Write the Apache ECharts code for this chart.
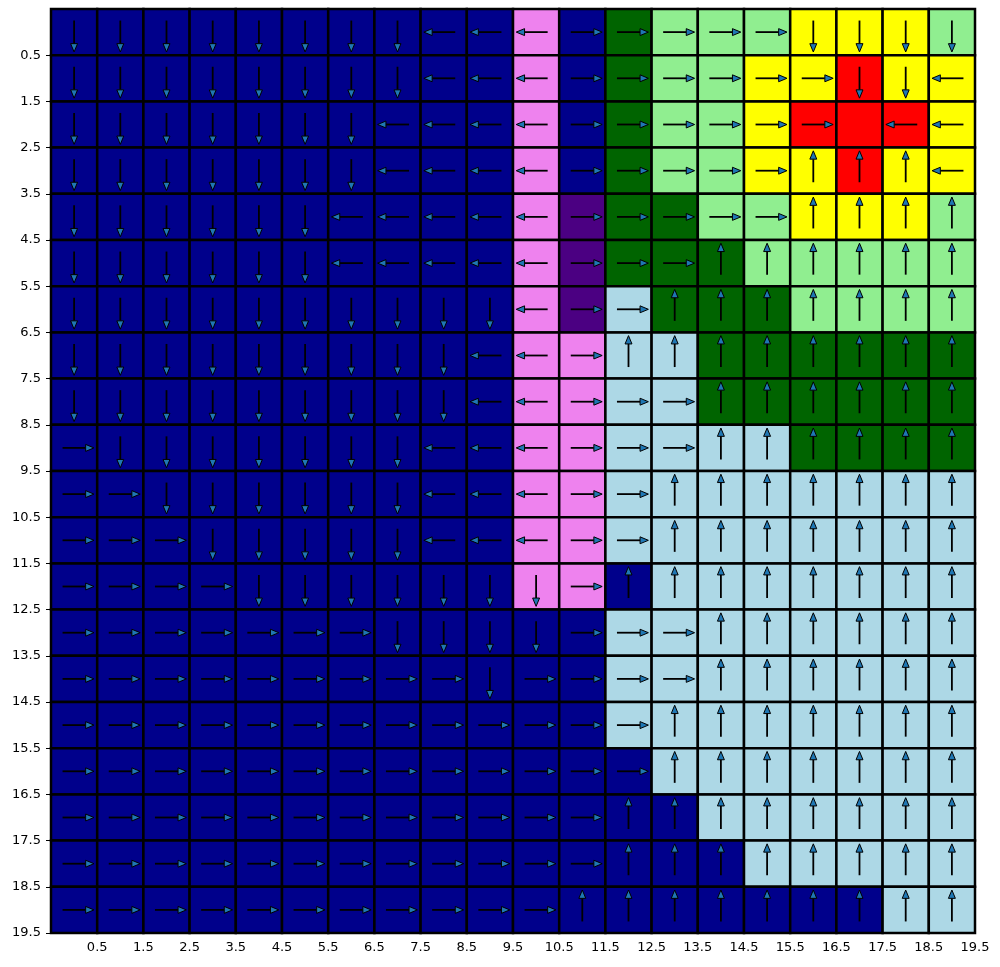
<!DOCTYPE html>
<html><head><meta charset="utf-8">
<script src="https://cdn.jsdelivr.net/npm/echarts@6/dist/echarts.min.js"></script>
<style>html,body{margin:0;padding:0;background:#fff}#c{width:1000px;height:967px}</style>
</head><body><div id="c"></div>
<script>
// Tick labels shown at the cell boundaries
const tickLabels = ['0.5','1.5','2.5','3.5','4.5','5.5','6.5','7.5','8.5','9.5',
  '10.5','11.5','12.5','13.5','14.5','15.5','16.5','17.5','18.5','19.5'];

// Cell colour codes, one string per row (top to bottom), one char per column
const colorRows = [
  'NNNNNNNNNNVNGLLLYYYL',
  'NNNNNNNNNNVNGLLYYRYY',
  'NNNNNNNNNNVNGLLYRRRY',
  'NNNNNNNNNNVNGLLYYRYY',
  'NNNNNNNNNNVPGGLLYYYL',
  'NNNNNNNNNNVPGGGLLLLL',
  'NNNNNNNNNNVPBGGGLLLL',
  'NNNNNNNNNNVVBBGGGGGG',
  'NNNNNNNNNNVVBBGGGGGG',
  'NNNNNNNNNNVVBBBBGGGG',
  'NNNNNNNNNNVVBBBBBBBB',
  'NNNNNNNNNNVVBBBBBBBB',
  'NNNNNNNNNNVVNBBBBBBB',
  'NNNNNNNNNNNNBBBBBBBB',
  'NNNNNNNNNNNNBBBBBBBB',
  'NNNNNNNNNNNNBBBBBBBB',
  'NNNNNNNNNNNNNBBBBBBB',
  'NNNNNNNNNNNNNNBBBBBB',
  'NNNNNNNNNNNNNNNBBBBB',
  'NNNNNNNNNNNNNNNNNNBB'
];

// Action per cell: U up, D down, L left, R right, . none
const actionRows = [
  'DDDDDDDDLLLRRRRRDDDD',
  'DDDDDDDDLLLRRRRRRDDL',
  'DDDDDDDLLLLRRRRRR.LL',
  'DDDDDDDLLLLRRRRRUUUL',
  'DDDDDDLLLLLRRRRRUUUU',
  'DDDDDDLLLLLRRRUUUUUU',
  'DDDDDDDDDDLRRUUUUUUU',
  'DDDDDDDDDLLRUUUUUUUU',
  'DDDDDDDDDLLRRRUUUUUU',
  'RDDDDDDDLLLRRRUUUUUU',
  'RRDDDDDDLLLRRUUUUUUU',
  'RRRDDDDDLLLRRUUUUUUU',
  'RRRRDDDDDDDRUUUUUUUU',
  'RRRRRRRDDDDRRRUUUUUU',
  'RRRRRRRRRDRRRRUUUUUU',
  'RRRRRRRRRRRRRUUUUUUU',
  'RRRRRRRRRRRRRUUUUUUU',
  'RRRRRRRRRRRRUUUUUUUU',
  'RRRRRRRRRRRRUUUUUUUU',
  'RRRRRRRRRRRUUUUUUUUU'
];

const cellColors = {N:'#00008B', V:'#EE82EE', P:'#4B0082', G:'#006400', L:'#90EE90', Y:'#FFFF00', R:'#FF0000', B:'#ADD8E6'};
const actionVectors = {U:[0,-1], D:[0,1], L:[-1,0], R:[1,0]};

const cellData = [];
colorRows.forEach((row, r) => {
  for (let c = 0; c < row.length; c++) {
    cellData.push({value:[c, r], itemStyle:{color: cellColors[row[c]]}});
  }
});
const arrowData = [];
actionRows.forEach((row, r) => {
  for (let c = 0; c < row.length; c++) {
    const v = actionVectors[row[c]];
    if (v) arrowData.push([c, r, v[0], v[1]]);
  }
});

const tickPositions = tickLabels.map((_, i) => i + 1);
const labelFmt = v => {
  const i = Math.round(v);
  return i >= 1 && i <= tickLabels.length ? tickLabels[i - 1] : '';
};

const axisCommon = {
  type:'value', min:0, max:20, interval:1,
  axisLine:{show:true, lineStyle:{color:'#000', width:1}},
  axisTick:{show:true, length:5, lineStyle:{color:'#000'}, customValues:tickPositions},
  splitLine:{show:false}
};

const chart = echarts.init(document.getElementById('c'), null, {renderer:'canvas'});
chart.setOption({
  animation:false,
  backgroundColor:'#fff',
  grid:{left:51, top:9, right:25, bottom:34},
  xAxis:Object.assign({}, axisCommon, {
    axisLabel:{formatter:labelFmt, customValues:tickPositions, color:'#000', fontSize:13, fontFamily:'DejaVu Sans', margin:8}}),
  yAxis:Object.assign({}, axisCommon, {inverse:true,
    axisLabel:{formatter:labelFmt, customValues:tickPositions, color:'#000', fontSize:13, fontFamily:'DejaVu Sans', margin:10}}),
  series:[
    {type:'custom', clip:false, z:2, data:cellData,
      renderItem:(params, api) => {
        const p0 = api.coord([api.value(0), api.value(1)]);
        const p1 = api.coord([api.value(0) + 1, api.value(1) + 1]);
        return {type:'rect',
          shape:{x:Math.min(p0[0],p1[0]), y:Math.min(p0[1],p1[1]), width:Math.abs(p1[0]-p0[0]), height:Math.abs(p1[1]-p0[1])},
          style:{fill:api.visual('color'), stroke:'#000', lineWidth:2.5}};
      }},
    {type:'custom', clip:false, z:3, data:arrowData,
      renderItem:(params, api) => {
        const c = api.value(0), r = api.value(1), dx = api.value(2), dy = api.value(3);
        const cx = c + 0.5, cy = r + 0.5;
        const px = -dy, py = dx;
        const s = api.coord([cx - 0.25*dx, cy - 0.25*dy]);
        const b = api.coord([cx + 0.25*dx, cy + 0.25*dy]);
        const t = api.coord([cx + 0.43*dx, cy + 0.43*dy]);
        const w1 = api.coord([cx + 0.25*dx + 0.075*px, cy + 0.25*dy + 0.075*py]);
        const w2 = api.coord([cx + 0.25*dx - 0.075*px, cy + 0.25*dy - 0.075*py]);
        return {type:'group', children:[
          {type:'line', shape:{x1:s[0], y1:s[1], x2:b[0], y2:b[1]}, style:{stroke:'#000', lineWidth:1.8}},
          {type:'polygon', shape:{points:[t, w1, w2]}, style:{fill:'#1f77b4', stroke:'#000', lineWidth:1}}
        ]};
      }}
  ]
});
</script>
</body></html>
